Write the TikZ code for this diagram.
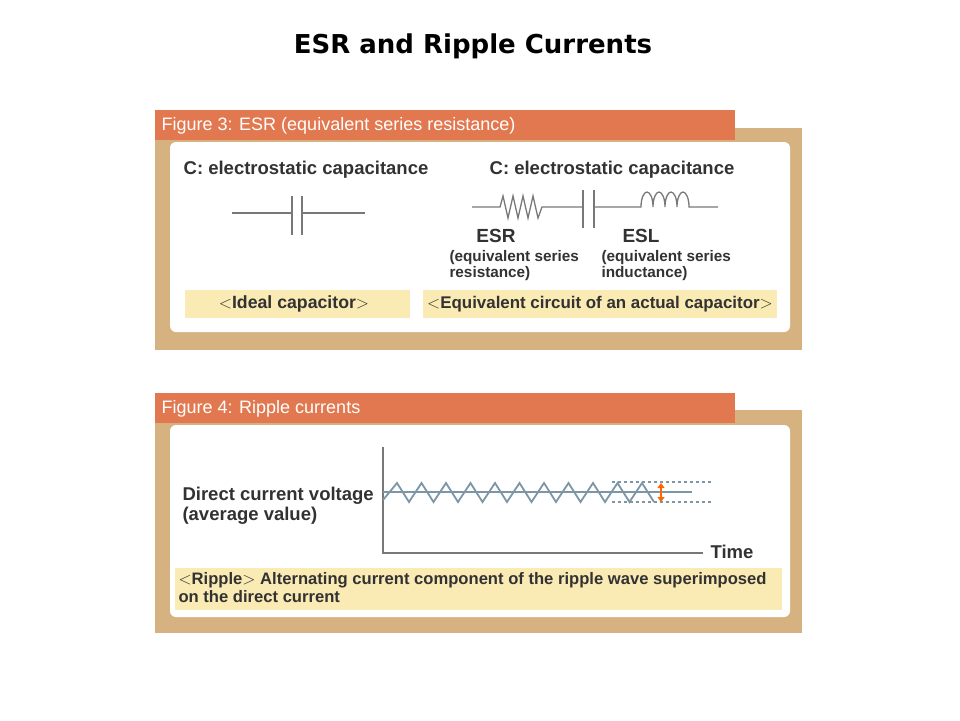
\documentclass[tikz,border=0pt]{standalone}
\usepackage{fontspec}
\setmainfont{Liberation Sans}
\newfontfamily\titlefont{DejaVu Sans}
\usetikzlibrary{arrows.meta}
\definecolor{tan}{RGB}{214,178,128}
\definecolor{org}{RGB}{226,120,80}
\definecolor{ylw}{RGB}{250,234,180}
\definecolor{txt}{RGB}{50,50,50}
\definecolor{wire}{RGB}{120,120,120}
\definecolor{wave}{RGB}{125,150,165}
\tikzset{
 hdr/.style={font=\fontsize{18}{20}\selectfont, text=white, anchor=west},
 lbl/.style={font=\fontsize{18.5}{20}\selectfont\bfseries, text=txt},
 sub/.style={font=\fontsize{15.3}{16}\selectfont\bfseries, text=txt, align=left, anchor=north west},
 w/.style={draw=wire, line width=1.6pt},
}
\begin{document}
\begin{tikzpicture}[x=1pt,y=-1pt]
\useasboundingbox (0,0) rectangle (960,720);
\fill[white] (0,0) rectangle (960,720);
\node[font=\fontsize{26}{28}\selectfont\titlefont\bfseries] (title) at (473,46) {ESR and Ripple Currents};
% Figure 3
\fill[tan] (155,128) rectangle (802,350);
\fill[org] (155,110) rectangle (735,140);
\node[hdr] (h3) at (158,126) {Figure 3: ESR (equivalent series resistance)};
\fill[white, rounded corners=6pt] (170,142) rectangle (790,332);
\fill[ylw] (185,290) rectangle (410,318);
\fill[ylw] (423,290) rectangle (777,318);
\node[lbl] (c1) at (306,170) {C: electrostatic capacitance};
\node[lbl] (c2) at (612,170) {C: electrostatic capacitance};
\node[lbl, font=\fontsize{17.7}{19}\selectfont\bfseries] (ic) at (294,304) {$<$Ideal capacitor$>$};
\node[lbl, font=\fontsize{16.9}{19}\selectfont\bfseries] (ec) at (600,304) {$<$Equivalent circuit of an actual capacitor$>$};
\draw[w] (232,213) -- (292,213) (292,196) -- (292,235) (302,196) -- (302,235) (302,213) -- (365,213);
\draw[w, line width=1.3pt] (472,207) -- (500,207) -- (503,196) -- (508,218) -- (513,196) -- (518,218) -- (523,196) -- (528,218) -- (533,196) -- (538,218) -- (542,207) -- (583,207);
\draw[w] (583,190) -- (583,228) (594,190) -- (594,228);
\draw[w, line width=1.3pt] (594,207) -- (641,207) arc[start angle=180,end angle=360,x radius=6,y radius=15] arc[start angle=180,end angle=360,x radius=6,y radius=15] arc[start angle=180,end angle=360,x radius=6,y radius=15] arc[start angle=180,end angle=360,x radius=6,y radius=15] -- (718,207);
\node[lbl, font=\fontsize{19}{20}\selectfont\bfseries] (esr) at (496,236) {ESR};
\node[lbl, font=\fontsize{19}{20}\selectfont\bfseries] (esl) at (641,236) {ESL};
\node[sub] (esrs) at (446,247) {(equivalent series\\resistance)};
\node[sub] (esls) at (598,247) {(equivalent series\\inductance)};
% Figure 4
\fill[tan] (155,410) rectangle (802,633);
\fill[org] (155,393) rectangle (735,423);
\node[hdr] (h4) at (158,409) {Figure 4: Ripple currents};
\fill[white, rounded corners=6pt] (170,425) rectangle (790,617);
\fill[ylw] (175,568) rectangle (782,610);
\node[sub, font=\fontsize{18.5}{20}\selectfont\bfseries] (dc) at (179,484) {Direct current voltage\\(average value)};
\draw[w, line width=1.3pt] (383,447) -- (383,553) -- (703,553);
\node[lbl, anchor=west] (time) at (707,552) {Time};
\draw[wave, line width=1.2pt] (383,492) -- (692,492);
\draw[wave, line width=1.8pt] (383,500) \foreach \i in {0,...,10} { -- ({397+\i*24.5},483) -- ({409+\i*24.5},502) };
\draw[wave, dashed, line width=1.2pt] (612,482) -- (712,482) (612,502) -- (712,502);
\draw[{Triangle[length=5pt,width=7pt]}-{Triangle[length=5pt,width=7pt]}, draw=orange!80!red, line width=1.8pt] (661,483) -- (661,502);
\node[sub, font=\fontsize{16.6}{18}\selectfont\bfseries, anchor=north west] (rp) at (175,569) {$<$Ripple$>$ Alternating current component of the ripple wave superimposed\\on the direct current};
\end{tikzpicture}
\end{document}
